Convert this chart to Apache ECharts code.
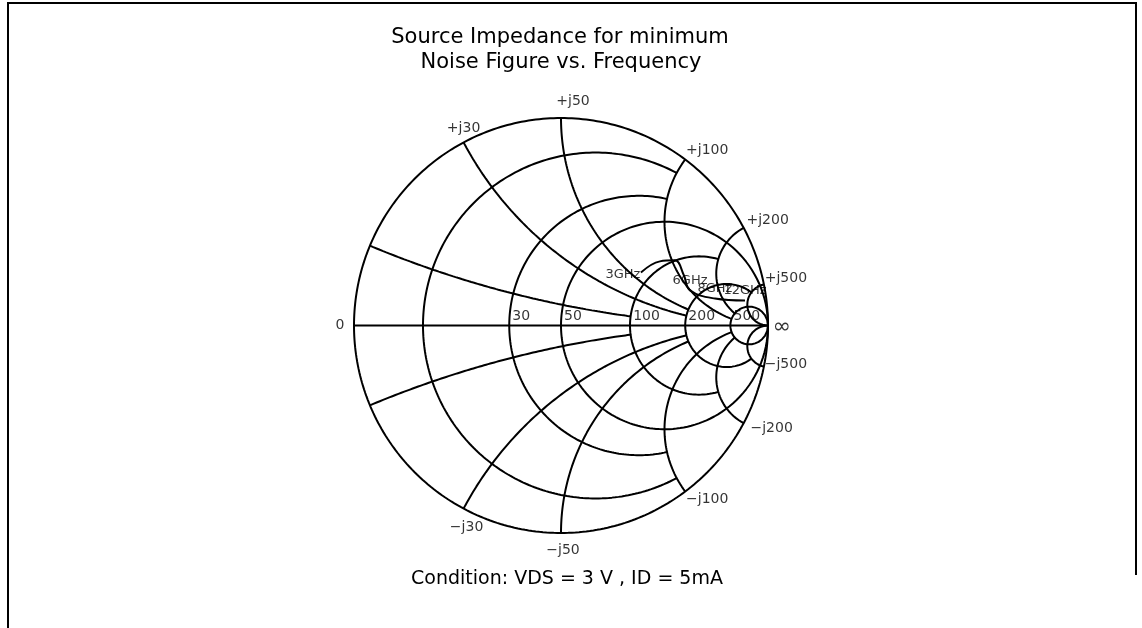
<!DOCTYPE html>
<html>
<head>
<meta charset="utf-8">
<script src="https://cdn.jsdelivr.net/npm/echarts@6/dist/echarts.min.js"></script>
<style>
html,body{margin:0;padding:0;background:#fff;}
#chart{width:1142px;height:628px;}
</style>
</head>
<body>
<div id="chart"></div>
<script>
// ---- data ----
var Z0 = 50;
// resistance circles (ohms) and how far (|X| ohms) each circle is drawn
var resistanceOhms = [10, 30, 50, 100, 200, 500];
var resistanceReach = [100, 100, Infinity, 200, 500, Infinity];
var resistanceLabels = ['', '30', '50', '100', '200', '500'];
// reactance arcs (ohms) and how far (R ohms) each arc is drawn
var reactanceOhms = [10, 30, 50, 100, 200, 500];
var reactanceReach = [100, 200, 200, 500, 500, Infinity];
var reactanceLabelsPos = ['', '+j30', '+j50', '+j100', '+j200', '+j500'];
var reactanceLabelsNeg = ['', '\u2212j30', '\u2212j50', '\u2212j100', '\u2212j200', '\u2212j500'];
// optimum source reflection coefficient vs frequency
var freqGHz = [3, 4, 5, 6, 8, 10, 12];
var gammaMag = [0.463, 0.569, 0.634, 0.641, 0.646, 0.755, 0.897];
var gammaAng = [33.5, 32.9, 29.7, 22.2, 15.2, 9.9, 7.7];
var freqLabels = ['3GHz', '', '', '', '6GHz', '8GHz', '12GHz'];
var titleLines = ['Source Impedance for minimum', 'Noise Figure vs. Frequency'];
var conditionText = 'Condition: VDS = 3 V , ID = 5mA';

// ---- helpers ----
function gamma(r, x) { // normalized z -> reflection coefficient [re, im]
  var nr = r - 1, ni = x, dr = r + 1, di = x;
  var d = dr * dr + di * di;
  return [(nr * dr + ni * di) / d, (ni * dr - nr * di) / d];
}
var N = 240;
var series = [];
var lineStyle = {color: '#000', width: 2};
function addCurve(pts) {
  series.push({type: 'line', data: pts, showSymbol: false, symbol: 'none', silent: true,
    lineStyle: lineStyle, animation: false, z: 2});
}
// outer circle r=0
(function () {
  var pts = [];
  for (var i = 0; i <= 720; i++) {
    var t = i / 720 * 2 * Math.PI;
    pts.push([Math.cos(t), Math.sin(t)]);
  }
  addCurve(pts);
})();
// real axis
addCurve([[-1, 0], [1, 0]]);
// resistance circles
resistanceOhms.forEach(function (R, k) {
  var r = R / Z0, X = resistanceReach[k] / Z0;
  var T = isFinite(X) ? Math.atan(X) : Math.PI / 2;
  var pts = [];
  for (var i = 0; i <= N; i++) {
    var t = -T + 2 * T * i / N;
    var x = Math.abs(Math.abs(t) - Math.PI / 2) < 1e-9 ? 1e9 * Math.sign(t) : Math.tan(t);
    pts.push(gamma(r, x));
  }
  addCurve(pts);
});
// reactance arcs (both signs)
reactanceOhms.forEach(function (Xo, k) {
  var x = Xo / Z0, R = reactanceReach[k] / Z0;
  var S = isFinite(R) ? Math.atan(R) : Math.PI / 2;
  [1, -1].forEach(function (sg) {
    var pts = [];
    for (var i = 0; i <= N; i++) {
      var s = S * i / N;
      var r = Math.abs(s - Math.PI / 2) < 1e-9 ? 1e9 : Math.tan(s);
      pts.push(gamma(r, sg * x));
    }
    addCurve(pts);
  });
});
// optimum source impedance trace
var trace = freqGHz.map(function (f, i) {
  var a = gammaAng[i] * Math.PI / 180;
  return [gammaMag[i] * Math.cos(a), gammaMag[i] * Math.sin(a)];
});
series.push({type: 'line', data: trace, smooth: 0.4, showSymbol: false, symbol: 'none',
  lineStyle: {color: '#000', width: 2}, animation: false, z: 4});

var font = 'DejaVu Sans';
var txt = {color: '#000', fontFamily: font, fontSize: 14};
var hidden = {color: 'rgba(0,0,0,0)'};
// resistance labels
series.push({type: 'scatter', symbolSize: 2, itemStyle: hidden, animation: false, z: 5,
  data: resistanceOhms.map(function (R, k) {
    var r = R / Z0;
    return {value: [(r - 1) / (r + 1), 0], label: {show: !!resistanceLabels[k], formatter: resistanceLabels[k],
      position: 'inside', offset: [3 + resistanceLabels[k].length * 4.5, -9]}};
  }),
  label: txt
});
// reactance labels
var posOff = [[0, 0], [0, -14], [12, -17], [22, -9], [24, -7], [22, -6]];
var negOff = [[0, 0], [3, 19], [2, 17], [22, 8], [28, 5], [22, -2]];
var rxLab = [];
reactanceOhms.forEach(function (Xo, k) {
  var x = Xo / Z0;
  if (!reactanceLabelsPos[k]) return;
  rxLab.push({value: gamma(0, x), label: {show: true, formatter: reactanceLabelsPos[k], offset: posOff[k], position: 'inside'}});
  rxLab.push({value: gamma(0, -x), label: {show: true, formatter: reactanceLabelsNeg[k], offset: negOff[k], position: 'inside'}});
});
rxLab.push({value: [-1, 0], label: {show: true, formatter: '0', offset: [-14, 0], position: 'inside'}});
rxLab.push({value: [1, 0], label: {show: true, formatter: '\u221E', offset: [14, 2], position: 'inside', fontSize: 22}});
series.push({type: 'scatter', symbolSize: 2, itemStyle: hidden, animation: false, z: 5,
  data: rxLab, label: txt});
// frequency labels
series.push({type: 'scatter', symbolSize: 2, itemStyle: hidden, animation: false, z: 6,
  data: trace.map(function (p, i) {
    return {value: p, label: {show: !!freqLabels[i], formatter: freqLabels[i], position: 'inside', offset: i === 0 ? [-18, 2] : [0, -10]}};
  }),
  label: {color: '#000', fontFamily: font, fontSize: 13}
});

var chart = echarts.init(document.getElementById('chart'));
chart.setOption({
  backgroundColor: '#fff',
  animation: false,
  grid: {left: 354, top: 118, width: 414, height: 415, containLabel: false},
  xAxis: {type: 'value', min: -1, max: 1, show: false},
  yAxis: {type: 'value', min: -1, max: 1, show: false},
  graphic: [
    {type: 'polyline', shape: {points: [[8, 628], [8, 3], [1136, 3], [1136, 575]]}, style: {stroke: '#000', lineWidth: 2, fill: null}},
    {type: 'text', x: 560, y: 38, style: {text: titleLines[0], font: '21px "DejaVu Sans"', fill: '#000', textAlign: 'center', textVerticalAlign: 'middle'}},
    {type: 'text', x: 561, y: 63, style: {text: titleLines[1], font: '21px "DejaVu Sans"', fill: '#000', textAlign: 'center', textVerticalAlign: 'middle'}},
    {type: 'text', x: 567, y: 579, style: {text: conditionText, font: '19px "DejaVu Sans"', fill: '#000', textAlign: 'center', textVerticalAlign: 'middle'}}
  ],
  series: series
});
</script>
</body>
</html>
